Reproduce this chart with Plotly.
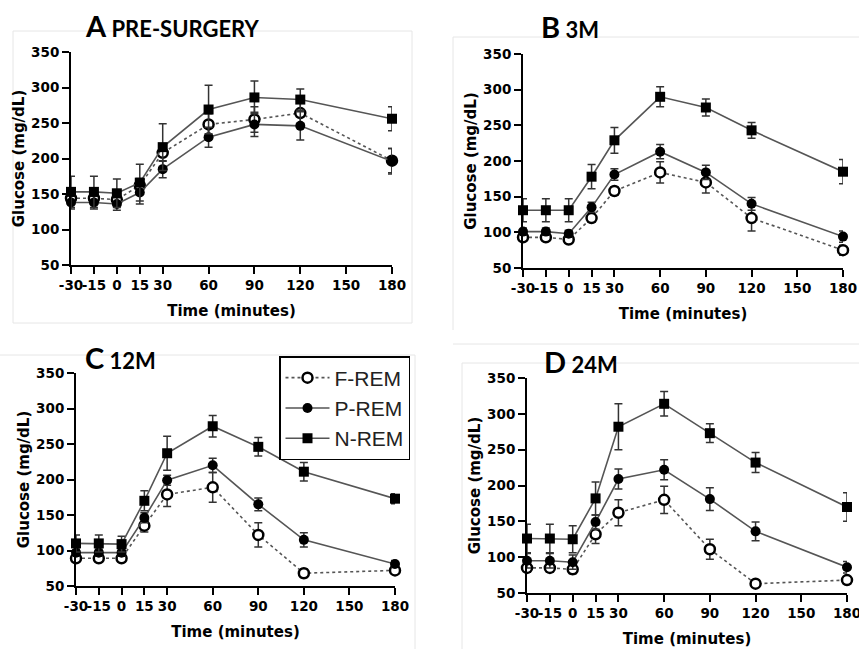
import plotly.graph_objects as go

W, H = 859, 649
time = [-30, -15, 0, 15, 30, 60, 90, 120, 180]
xticks = [-30, -15, 0, 15, 30, 60, 90, 120, 150, 180]
xticklabels = ["-30", "-15", "0", "15", "30", "60", "90", "120", "150", "180"]
yticks = [50, 100, 150, 200, 250, 300, 350]
yticklabels = ["50", "100", "150", "200", "250", "300", "350"]

# Panel A: pre-surgery
a_f = [144, 144, 142, 162, 208, 248, 255, 264, 197]
a_f_err = [8, 8, 8, 10, 12, 15, 18, 15, 17]
a_p = [138, 138, 136, 152, 185, 230, 248, 246, 196]
a_p_err = [9, 9, 9, 16, 12, 14, 17, 20, 18]
a_n = [153, 153, 151, 166, 216, 269, 286, 283, 256]
a_n_err = [22, 22, 20, 26, 33, 34, 23, 15, 17]

# Panel B: 3M
b_f = [93, 93, 90, 120, 158, 184, 170, 120, 75]
b_f_err = [4, 4, 4, 6, 6, 15, 15, 18, 7]
b_p = [101, 101, 98, 135, 181, 213, 184, 140, 94]
b_p_err = [5, 5, 5, 7, 8, 10, 10, 9, 8]
b_n = [131, 131, 131, 178, 229, 290, 275, 243, 185]
b_n_err = [16, 16, 16, 17, 18, 14, 12, 11, 17]

# Panel C: 12M
c_f = [89, 89, 89, 135, 179, 189, 122, 68, 72]
c_f_err = [4, 4, 4, 9, 17, 21, 17, 6, 3]
c_p = [97, 97, 97, 146, 199, 220, 165, 115, 81]
c_p_err = [5, 5, 5, 7, 7, 10, 9, 10, 5]
c_n = [110, 110, 109, 170, 237, 275, 246, 211, 173]
c_n_err = [12, 12, 11, 14, 24, 15, 13, 13, 7]

# Panel D: 24M
d_f = [85, 85, 83, 132, 162, 180, 111, 63, 68]
d_f_err = [6, 6, 6, 13, 18, 19, 14, 3, 3]
d_p = [95, 95, 93, 149, 209, 222, 181, 136, 86]
d_p_err = [10, 10, 10, 10, 14, 14, 16, 13, 8]
d_n = [126, 126, 125, 182, 282, 314, 273, 232, 170]
d_n_err = [20, 20, 19, 23, 32, 17, 13, 14, 20]

panels = [
    dict(f=a_f, fe=a_f_err, p=a_p, pe=a_p_err, n=a_n, ne=a_n_err,
         box=(71, 392, 52, 265), letter="A", sub="PRE-SURGERY", tpos=(83, 25)),
    dict(f=b_f, fe=b_f_err, p=b_p, pe=b_p_err, n=b_n, ne=b_n_err,
         box=(523, 843, 54, 268), letter="B", sub="3M", tpos=(539, 27)),
    dict(f=c_f, fe=c_f_err, p=c_p, pe=c_p_err, n=c_n, ne=c_n_err,
         box=(76, 395, 373, 586), letter="C", sub="12M", tpos=(83, 357)),
    dict(f=d_f, fe=d_f_err, p=d_p, pe=d_p_err, n=d_n, ne=d_n_err,
         box=(527, 847, 378, 593), letter="D", sub="24M", tpos=(542, 361)),
]

def X(px):
    return px / W

def Y(py):
    return 1 - py / H

fig = go.Figure()
LINE = "#555555"
ERR = "#333333"
TICKFONT = dict(family="DejaVu Sans", size=13.5, color="black", weight="bold")
TITLEFONT = dict(family="DejaVu Sans", size=15, color="black", weight="bold")

annotations = []
for i, pnl in enumerate(panels, start=1):
    xa = "x" if i == 1 else f"x{i}"
    ya = "y" if i == 1 else f"y{i}"
    specs = [
        ("F-REM", pnl["f"], pnl["fe"], dict(symbol="circle", size=10, color="white",
                                           line=dict(color="black", width=2.5)), "dot"),
        ("P-REM", pnl["p"], pnl["pe"], dict(symbol="circle", size=10, color="black",
                                           line=dict(color="black", width=0)), "solid"),
        ("N-REM", pnl["n"], pnl["ne"], dict(symbol="square", size=10, color="black",
                                           line=dict(color="black", width=0)), "solid"),
    ]
    for name, vals, errs, mk, dash in specs:
        fig.add_trace(go.Scatter(
            x=time, y=vals, name=name, mode="lines+markers",
            xaxis=xa, yaxis=ya, marker=mk,
            line=dict(color=LINE, width=1.6, dash=dash),
            error_y=dict(type="data", array=errs, visible=True, color=ERR,
                         thickness=1.5, width=4),
            cliponaxis=False, legendgroup=name, showlegend=(i == 1),
        ))
    x0, x1, y0, y1 = pnl["box"]
    axcommon = dict(showline=True, linecolor="black", linewidth=2, ticks="outside",
                    ticklen=7, tickwidth=2, tickcolor="black", showgrid=False,
                    zeroline=False, tickfont=TICKFONT, automargin=False, tickangle=0,
                    ticklabeloverflow="allow")
    key_x = "xaxis" if i == 1 else f"xaxis{i}"
    key_y = "yaxis" if i == 1 else f"yaxis{i}"
    fig.update_layout(**{
        key_x: dict(domain=[X(x0), X(x1)], range=[-30, 180], tickmode="array",
                    tickvals=xticks, ticktext=xticklabels,
                    anchor=ya, title=dict(text="Time (minutes)", font=TITLEFONT, standoff=13),
                    **axcommon),
        key_y: dict(domain=[Y(y1), Y(y0)], range=[50, 350], tickmode="array",
                    tickvals=yticks, ticktext=yticklabels,
                    anchor=xa, title=dict(text="Glucose (mg/dL)", font=TITLEFONT, standoff=3),
                    **axcommon),
    })
    tx, ty = pnl["tpos"]
    annotations.append(dict(
        x=X(tx), y=Y(ty), xref="paper", yref="paper", xanchor="left", yanchor="middle",
        showarrow=False,
        text=(f"<b><span style='font-size:29px'>{pnl['letter']}</span></b>"
              f"<b><span style='font-size:22px'> {pnl['sub']}</span></b>"),
        font=dict(family="Lato, Open Sans", size=22, color="black"),
    ))

shapes = []
FR = "#e6e6e6"
def hline(y, xa, xb):
    shapes.append(dict(type="line", xref="paper", yref="paper", x0=X(xa), x1=X(xb),
                       y0=Y(y), y1=Y(y), line=dict(color=FR, width=1), layer="below"))
def vline(x, ya, yb):
    shapes.append(dict(type="line", xref="paper", yref="paper", x0=X(x), x1=X(x),
                       y0=Y(ya), y1=Y(yb), line=dict(color=FR, width=1), layer="below"))

# faint panel frames
hline(31, 13, 412); hline(323, 13, 412); vline(13, 31, 323); vline(412, 31, 323)
hline(37, 453, 859); vline(453, 37, 330)
hline(355, 0, 415); vline(415, 355, 649)
hline(344, 453, 859); hline(363, 462, 859); vline(462, 363, 649)

fig.update_layout(
    width=W, height=H, margin=dict(l=0, r=0, t=0, b=0),
    paper_bgcolor="white", plot_bgcolor="white",
    annotations=annotations, shapes=shapes,
    legend=dict(x=X(279), y=Y(356), xanchor="left", yanchor="top",
                bordercolor="black", borderwidth=1.5, bgcolor="white",
                font=dict(family="Liberation Sans, Arial", size=21, color="#222222"),
                itemsizing="trace", itemwidth=44, tracegroupgap=0),
    showlegend=True,
)

fig.write_html("out.html", config={"displayModeBar": False},
               post_script="document.body.style.margin='0px';")
